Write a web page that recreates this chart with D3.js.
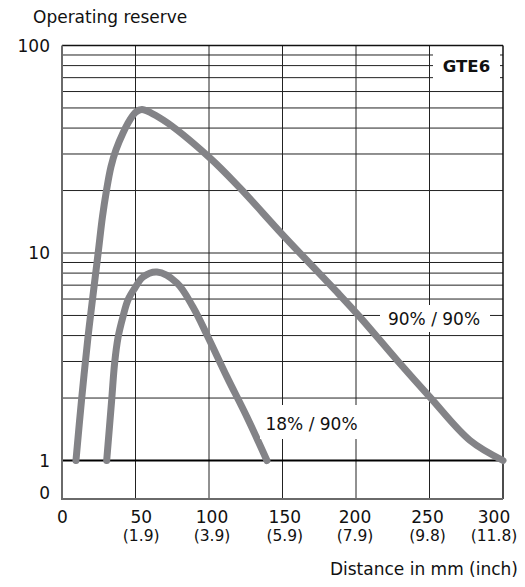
<!DOCTYPE html>
<html><head><meta charset="utf-8">
<script src="https://cdn.jsdelivr.net/npm/d3@7"></script>
<style>body{margin:0;background:#fff} svg{display:block;font-family:"DejaVu Sans",sans-serif}</style>
</head><body><svg id="c" width="525" height="587"></svg>
<script>
// ---- data ----
const xTicks = [0, 50, 100, 150, 200, 250, 300];
const xTickLabels = ["0", "50", "100", "150", "200", "250", "300"];
const xInchLabels = ["", "(1.9)", "(3.9)", "(5.9)", "(7.9)", "(9.8)", "(11.8)"];
const yTicks = [1, 10, 100];
const yTickLabels = ["1", "10", "100"];
const yZeroLabel = "0";
const seriesNames = ["90% / 90%", "18% / 90%"];
const productName = "GTE6";
const yTitle = "Operating reserve";
const xTitle = "Distance in mm (inch)";

const curve90x = [9.5, 13.3, 17.7, 22.1, 24.8, 27.5, 30.3, 33.3, 36.7, 41.5, 46.2, 50.3, 54.4, 68.7, 100, 121, 150.3, 187, 202.7, 227.8, 250.3, 277.5, 300];
const curve90y = [1.0, 1.96, 3.94, 7.17, 10.3, 14.9, 20.1, 26, 31.4, 37.9, 43.8, 47.8, 49.2, 43.8, 29, 20.6, 12.2, 6.49, 4.91, 3.05, 2.02, 1.25, 1.0];
const curve18x = [30.4, 33.8, 35.8, 38.2, 41.4, 44.9, 49.6, 55.1, 64.6, 78.2, 89.1, 99.3, 112.2, 125.8, 139.4];
const curve18y = [1.0, 1.96, 2.95, 3.94, 4.91, 5.94, 6.78, 7.66, 8.09, 7.17, 5.49, 3.94, 2.53, 1.62, 1.0];

// ---- layout ----
const L = 62, R = 503, T = 45.5, B = 499, Y1 = 460.5;
const labelNudge = [0.5, 5.7, 3, 2.3, -1, -2, -9];
const svg = d3.select("#c");
const x = d3.scaleLinear().domain([0, 300]).range([L, R]);
const y = d3.scaleLog().domain([1, 100]).range([Y1, T]);

// horizontal grid (log minor lines)
const hVals = [];
[1, 10].forEach(d => { for (let k = 2; k <= 9; k++) hVals.push(d * k); });
hVals.push(10);
const grid = svg.append("g");
grid.selectAll("line.h").data(hVals).join("line")
  .attr("x1", L).attr("x2", R).attr("y1", d => y(d)).attr("y2", d => y(d))
  .attr("stroke", "#222").attr("stroke-width", 1);
// vertical grid
grid.selectAll("line.v").data(xTicks.slice(1, -1)).join("line")
  .attr("x1", d => x(d)).attr("x2", d => x(d)).attr("y1", T).attr("y2", B)
  .attr("stroke", "#222").attr("stroke-width", 1);
// line at 1
svg.append("line").attr("x1", L).attr("x2", R).attr("y1", y(1)).attr("y2", y(1))
  .attr("stroke", "#000").attr("stroke-width", 2);
// borders
svg.append("line").attr("x1", L).attr("x2", R).attr("y1", T).attr("y2", T).attr("stroke", "#111").attr("stroke-width", 1.5);
svg.append("line").attr("x1", R).attr("x2", R).attr("y1", T).attr("y2", B).attr("stroke", "#111").attr("stroke-width", 1.5);
svg.append("line").attr("x1", L).attr("x2", L).attr("y1", T).attr("y2", B + 1).attr("stroke", "#6a6a6a").attr("stroke-width", 2);
svg.append("line").attr("x1", L - 1).attr("x2", R).attr("y1", B).attr("y2", B).attr("stroke", "#6a6a6a").attr("stroke-width", 2);

// curves
const line = d3.line().x(d => x(d[0])).y(d => y(d[1])).curve(d3.curveCatmullRom.alpha(0.5));
[[curve90x, curve90y], [curve18x, curve18y]].forEach(([xs, ys]) => {
  svg.append("path").datum(xs.map((v, i) => [v, ys[i]]))
    .attr("d", line).attr("fill", "none").attr("stroke", "#838387")
    .attr("stroke-width", 7).attr("stroke-linecap", "round").attr("stroke-linejoin", "round");
});

// label boxes
function box(x0, y0, x1, y1) {
  svg.append("rect").attr("x", x0).attr("y", y0).attr("width", x1 - x0).attr("height", y1 - y0).attr("fill", "#fff");
}
box(433, 50, 500, 84);
svg.append("text").attr("x", 466.5).attr("y", 71.5).attr("text-anchor", "middle")
  .attr("font-size", 16.5).attr("font-weight", "bold").attr("fill", "#111").text(productName);
box(380, 305, 490, 332);
svg.append("text").attr("x", 434).attr("y", 325).attr("text-anchor", "middle")
  .attr("font-size", 17).attr("fill", "#111").text(seriesNames[0]);
box(260, 405, 364, 439);
svg.append("text").attr("x", 311.5).attr("y", 429.5).attr("text-anchor", "middle")
  .attr("font-size", 17).attr("fill", "#111").text(seriesNames[1]);

// y tick labels
svg.selectAll("text.yt").data(yTicks).join("text").attr("class", "yt")
  .attr("x", 50).attr("y", d => y(d) + 6.2).attr("text-anchor", "end")
  .attr("font-size", 17).attr("fill", "#111").text((d, i) => yTickLabels[i]);
svg.append("text").attr("x", 50).attr("y", B - 0.5).attr("text-anchor", "end")
  .attr("font-size", 17).attr("fill", "#111").text(yZeroLabel);

// x tick labels
svg.selectAll("text.xt").data(xTicks).join("text").attr("class", "xt")
  .attr("x", (d, i) => x(d) + labelNudge[i]).attr("y", 523).attr("text-anchor", "middle")
  .attr("font-size", 17).attr("fill", "#111").text((d, i) => xTickLabels[i]);
svg.selectAll("text.xi").data(xTicks).join("text").attr("class", "xi")
  .attr("x", (d, i) => x(d) + labelNudge[i]).attr("y", 540.5).attr("text-anchor", "middle")
  .attr("font-size", 15.5).attr("fill", "#111").text((d, i) => xInchLabels[i]);

// titles
svg.append("text").attr("x", 33).attr("y", 23).attr("font-size", 17).attr("fill", "#111").text(yTitle);
svg.append("text").attr("x", 518).attr("y", 575).attr("text-anchor", "end").attr("font-size", 17).attr("fill", "#111").text(xTitle);
</script>
</body></html>
